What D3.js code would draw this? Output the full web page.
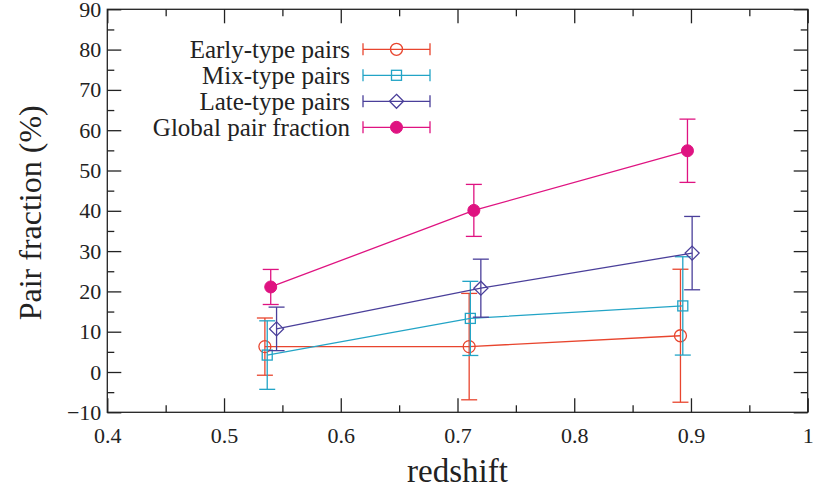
<!DOCTYPE html>
<html>
<head>
<meta charset="utf-8">
<script src="https://cdn.jsdelivr.net/npm/d3@7"></script>
<style>
  html, body { margin: 0; padding: 0; background: #fff; }
  svg { display: block; }
</style>
</head>
<body>
<svg id="chart" width="813" height="492"></svg>
<script>
// Pair fractions (%) vs redshift, with symmetric 1-sigma errors
const seriesNames = ["Early-type pairs", "Mix-type pairs", "Late-type pairs", "Global pair fraction"];

const redshiftEarly = [0.535, 0.710, 0.891];
const earlyFrac     = [6.3, 6.3, 9.0];
const earlyErr      = [7.1, 13.2, 16.5];

const redshiftMix = [0.537, 0.711, 0.893];
const mixFrac     = [4.2, 13.3, 16.4];
const mixErr      = [8.5, 9.2, 12.2];

const redshiftLate = [0.545, 0.720, 0.901];
const lateFrac     = [10.7, 20.8, 29.5];
const lateErr      = [5.4, 7.2, 9.1];

const redshiftGlobal = [0.540, 0.714, 0.897];
const globalFrac     = [21.1, 40.1, 54.9];
const globalErr      = [4.35, 6.45, 7.85];

const xTicks = [0.4, 0.5, 0.6, 0.7, 0.8, 0.9, 1.0];
const yTicks = [-10, 0, 10, 20, 30, 40, 50, 60, 70, 80, 90];

const FONT = "'Liberation Serif', 'Times New Roman', serif";
const svg = d3.select("#chart");
const plot = { left: 107.3, right: 807.7, top: 9.3, bottom: 412.3 };

const x = d3.scaleLinear().domain([0.4, 1.0]).range([plot.left, plot.right]);
const y = d3.scaleLinear().domain([-10, 90]).range([plot.bottom, plot.top]);

const frameColor = "#222";
const majorLen = 14, minorLen = 7;

const fmtX = v => (v === 1 ? "1" : d3.format(".1f")(v));

// Axes with inward ticks on all four sides
function styleAxis(g) {
  g.attr("font-family", FONT).attr("font-size", 22);
  g.select(".domain").remove();
  g.selectAll(".tick line").attr("stroke", frameColor).attr("stroke-width", 1.3);
  g.selectAll(".tick text").attr("fill", "#222")
    .attr("font-family", FONT).attr("font-size", 22);
}
const xMinor = d3.range(0.45, 1.0, 0.1);
const yMinor = d3.range(-5, 90, 10);

svg.append("g").attr("transform", `translate(0,${plot.bottom})`)
  .call(d3.axisBottom(x).tickValues(xTicks).tickFormat(fmtX).tickSize(-majorLen).tickPadding(15))
  .call(styleAxis);
svg.append("g").attr("transform", `translate(0,${plot.bottom})`)
  .call(d3.axisBottom(x).tickValues(xMinor).tickFormat("").tickSize(-minorLen)).call(styleAxis);
svg.append("g").attr("transform", `translate(0,${plot.top})`)
  .call(d3.axisTop(x).tickValues(xTicks).tickFormat("").tickSize(-majorLen)).call(styleAxis);
svg.append("g").attr("transform", `translate(0,${plot.top})`)
  .call(d3.axisTop(x).tickValues(xMinor).tickFormat("").tickSize(-minorLen)).call(styleAxis);

svg.append("g").attr("transform", `translate(${plot.left},0)`)
  .call(d3.axisLeft(y).tickValues(yTicks).tickSize(-majorLen).tickPadding(6))
  .call(styleAxis);
svg.append("g").attr("transform", `translate(${plot.left},0)`)
  .call(d3.axisLeft(y).tickValues(yMinor).tickFormat("").tickSize(-minorLen)).call(styleAxis);
svg.append("g").attr("transform", `translate(${plot.right},0)`)
  .call(d3.axisRight(y).tickValues(yTicks).tickFormat("").tickSize(-majorLen)).call(styleAxis);
svg.append("g").attr("transform", `translate(${plot.right},0)`)
  .call(d3.axisRight(y).tickValues(yMinor).tickFormat("").tickSize(-minorLen)).call(styleAxis);

svg.append("rect")
  .attr("x", plot.left).attr("y", plot.top)
  .attr("width", plot.right - plot.left).attr("height", plot.bottom - plot.top)
  .attr("fill", "none").attr("stroke", frameColor).attr("stroke-width", 1.3);

// Axis titles
svg.append("text")
  .attr("x", (plot.left + plot.right) / 2).attr("y", 482)
  .attr("text-anchor", "middle").attr("font-family", FONT).attr("font-size", 33).attr("fill", "#222")
  .text("redshift");
svg.append("text")
  .attr("transform", `translate(41,${(plot.top + plot.bottom) / 2 + 2}) rotate(-90)`)
  .attr("text-anchor", "middle").attr("font-family", FONT).attr("font-size", 32).attr("fill", "#222")
  .text("Pair fraction (%)");

// Series definitions
const series = [
  { name: seriesNames[0], xs: redshiftEarly, ys: earlyFrac, es: earlyErr, color: "#e8452e", marker: "circle" },
  { name: seriesNames[1], xs: redshiftMix, ys: mixFrac, es: mixErr, color: "#22a4c6", marker: "square" },
  { name: seriesNames[2], xs: redshiftLate, ys: lateFrac, es: lateErr, color: "#4a3f9a", marker: "diamond" },
  { name: seriesNames[3], xs: redshiftGlobal, ys: globalFrac, es: globalErr, color: "#df1381", marker: "dot" }
];

const capHalf = 8;
const sw = 1.3;

function drawMarker(g, type, cx, cy, color) {
  if (type === "circle") {
    g.append("circle").attr("cx", cx).attr("cy", cy).attr("r", 6)
      .attr("fill", "none").attr("stroke", color).attr("stroke-width", sw);
  } else if (type === "square") {
    g.append("rect").attr("x", cx - 5).attr("y", cy - 5).attr("width", 10).attr("height", 10)
      .attr("fill", "none").attr("stroke", color).attr("stroke-width", sw);
  } else if (type === "diamond") {
    const r = 7;
    g.append("path").attr("d", `M${cx},${cy - r}L${cx + r},${cy}L${cx},${cy + r}L${cx - r},${cy}Z`)
      .attr("fill", "none").attr("stroke", color).attr("stroke-width", sw);
  } else {
    g.append("circle").attr("cx", cx).attr("cy", cy).attr("r", 6)
      .attr("fill", color).attr("stroke", color).attr("stroke-width", 1);
  }
}

const line = d3.line().x(d => x(d[0])).y(d => y(d[1]));

series.forEach(s => {
  const g = svg.append("g");
  const pts = s.xs.map((xv, i) => [xv, s.ys[i], s.es[i]]);
  g.append("path").attr("d", line(pts)).attr("fill", "none")
    .attr("stroke", s.color).attr("stroke-width", sw);
  pts.forEach(p => {
    const cx = x(p[0]);
    const yTop = y(p[1] + p[2]), yBot = y(p[1] - p[2]);
    g.append("line").attr("x1", cx).attr("x2", cx).attr("y1", yTop).attr("y2", yBot)
      .attr("stroke", s.color).attr("stroke-width", sw);
    [yTop, yBot].forEach(yy => g.append("line")
      .attr("x1", cx - capHalf).attr("x2", cx + capHalf).attr("y1", yy).attr("y2", yy)
      .attr("stroke", s.color).attr("stroke-width", sw));
    drawMarker(g, s.marker, cx, y(p[1]), s.color);
  });
});

// Legend
const legend = svg.append("g");
const legTextX = 350, legX1 = 363, legX2 = 430, legY0 = 49.3, legDy = 26;
series.forEach((s, i) => {
  const yy = legY0 + i * legDy;
  legend.append("text").attr("x", legTextX).attr("y", yy).attr("dy", "0.33em")
    .attr("text-anchor", "end").attr("font-family", FONT).attr("font-size", 25).attr("fill", "#222")
    .text(s.name);
  legend.append("line").attr("x1", legX1).attr("x2", legX2).attr("y1", yy).attr("y2", yy)
    .attr("stroke", s.color).attr("stroke-width", sw);
  [legX1, legX2].forEach(xx => legend.append("line")
    .attr("x1", xx).attr("x2", xx).attr("y1", yy - 6).attr("y2", yy + 6)
    .attr("stroke", s.color).attr("stroke-width", sw));
  drawMarker(legend, s.marker, (legX1 + legX2) / 2, yy, s.color);
});
</script>
</body>
</html>
